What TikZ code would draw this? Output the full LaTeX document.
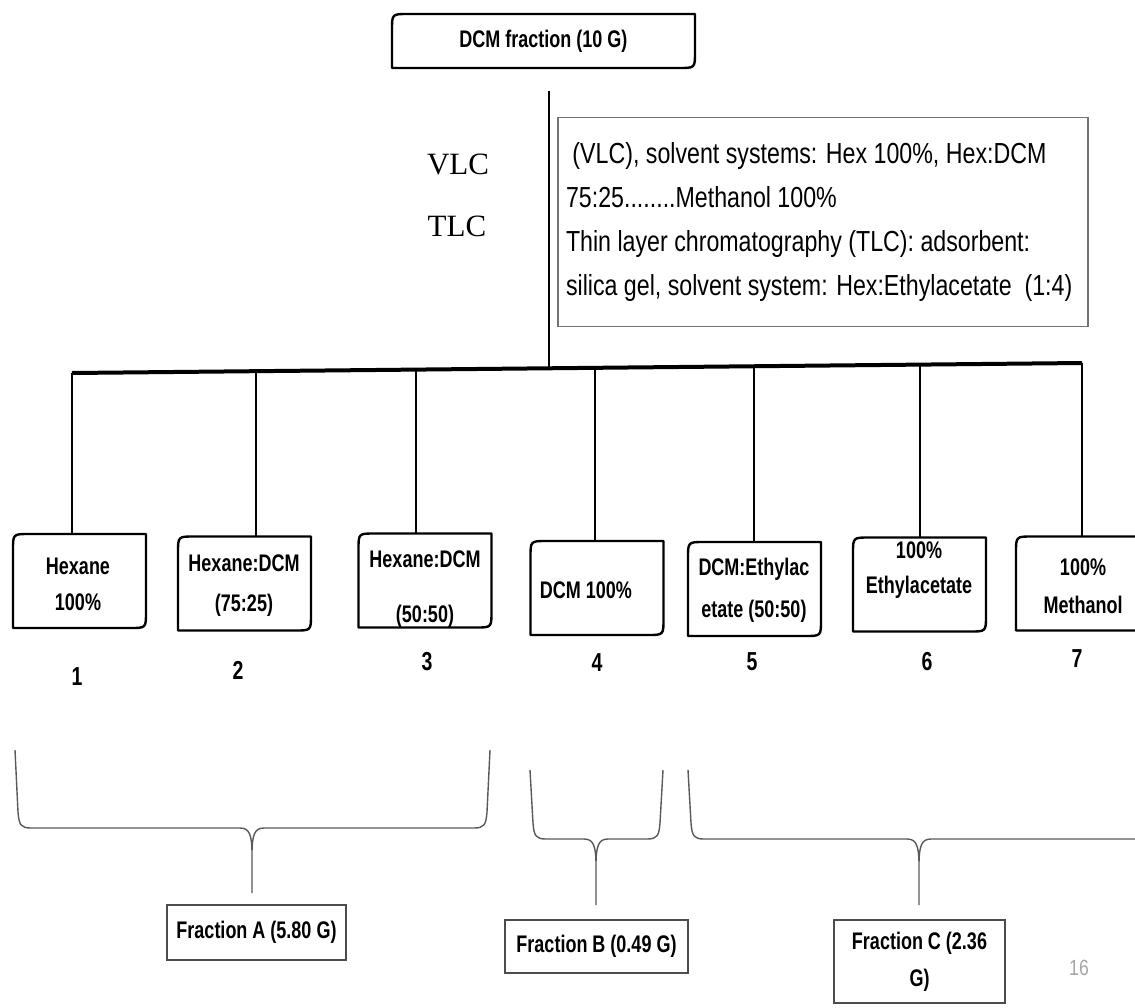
\documentclass[tikz,border=0pt]{standalone}
\usepackage{fontspec}
\setmainfont{Liberation Serif}
\newfontfamily\boxfont[FakeStretch=0.75]{Liberation Sans}
\newfontfamily\notefont[FakeStretch=0.80]{Liberation Sans}
\usepackage{tikz}
\usetikzlibrary{calc}

\begin{document}
\begin{tikzpicture}[x=1pt,y=-1pt,
		solv/.style={minimum width=133pt, minimum height=94pt, inner sep=0pt, outer sep=0pt},
		btxt/.style={font=\boxfont\bfseries\fontsize{24}{36}\selectfont, align=center, inner sep=0pt},
		num/.style={font=\boxfont\bfseries\fontsize{26}{26}\selectfont, inner sep=0pt},
		frac/.style={draw=black!70, line width=1.3pt, align=center, inner sep=0pt,
			font=\boxfont\bfseries\fontsize{24}{37}\selectfont},
		boxline/.style={line width=2.4pt, line join=round},
		brace/.style={black!65, line width=1.4pt, line join=round},
		drop/.style={line width=2.2pt},
		bar/.style={line width=4pt}]
	\useasboundingbox (0,0) rectangle (1135,1007);
	\clip (0,0) rectangle (1135,1007);
	
	\node[solv, minimum width=303pt, minimum height=54pt, font=\boxfont\bfseries\fontsize{24}{30}\selectfont] (top) at (543.5,41) {DCM fraction (10 G)};
	
	\node[font=\fontsize{31}{31}\selectfont, inner sep=0pt] (vlc) at (458,164) {VLC};
	\node[font=\fontsize{31}{31}\selectfont, inner sep=0pt] (tlc) at (457,226) {TLC};
	
	\node[draw=black!55, line width=1.3pt, minimum width=530pt, minimum height=209pt,
		text width=514pt, inner sep=8pt, align=flush left,
		font=\notefont\fontsize{29}{44}\selectfont] (note) at (823,222)
		{\ (VLC), solvent systems: Hex 100\%, Hex:DCM\\
		75:25........Methanol 100\%\\
		Thin layer chromatography (TLC): adsorbent:\\
		silica gel, solvent system: Hex:Ethylacetate\ \ (1:4)};
	
	\node[solv] (b1) at (79.5,581) {};
	\node[solv] (b2) at (244.5,583.5) {};
	\node[solv] (b3) at (425,580.5) {};
	\node[solv] (b4) at (597,588) {};
	\node[solv] (b5) at (754.5,589) {};
	\node[solv] (b6) at (919.5,584.5) {};
	\node[solv] (b7) at (1082.5,583.5) {};
	
	\foreach \b in {top,b1,b2,b3,b4,b5,b6,b7}
		\draw[boxline] ($(\b.north west)+(0,16)$) .. controls (\b.north west) .. ($(\b.north west)+(16,0)$)
			-- (\b.north east) -- ($(\b.south east)+(0,-16)$) .. controls (\b.south east) .. ($(\b.south east)+(-16,0)$)
			-- (\b.south west) -- cycle;
	
	\node[btxt] (s1) at (78,584) {Hexane\\100\%};
	\node[btxt] (s2) at (244,586) {Hexane:DCM\\[4pt](75:25)};
	\node[btxt] (s3) at (425,589) {Hexane:DCM\\[19pt](50:50)};
	\node[btxt] (s4) at (586,590) {DCM 100\%};
	\node[btxt] (s5) at (754,590) {DCM:Ethylac\\[6pt]etate (50:50)};
	\node[btxt] (s6) at (919,570) {100\%\\[-1pt]Ethylacetate};
	\node[btxt] (s7) at (1083,586) {100\%\\[2pt]Methanol};
	
	\node[num] (n1) at (77,677) {1};
	\node[num] (n2) at (238,670) {2};
	\node[num] (n3) at (427,662) {3};
	\node[num] (n4) at (597,663) {4};
	\node[num] (n5) at (752,662) {5};
	\node[num] (n6) at (927,662) {6};
	\node[num] (n7) at (1077,659) {7};
	
	\coordinate (vtop) at (549,91);
	\coordinate (d1) at (72,373);
	\coordinate (d2) at (256,371.2);
	\coordinate (d3) at (416,369.6);
	\coordinate (d4) at (595,367.8);
	\coordinate (d5) at (754,366.2);
	\coordinate (d6) at (920,364.6);
	\coordinate (d7) at (1082,363);
	
	\draw[line width=2.6pt] (vtop) -- (vtop |- d4);
	\draw[bar] (d1) -- (d7);
	\foreach \i in {1,...,7}
		\draw[drop] (d\i) -- (d\i |- b\i.north);
	
	\foreach \l/\r/\t/\top/\mid/\bot in {15/490/252/750/828/893, 530/663/596/770/839/905, 688/1160/919/770/839/905}
		\draw[brace] (\l,\top) -- (\l+3,\mid-16) .. controls (\l+4,\mid-3) and (\l+6,\mid) .. (\l+16,\mid)
			-- (\t-12,\mid) .. controls (\t-3,\mid) and (\t,\mid+6) .. (\t,\mid+26) -- (\t,\bot)
			(\t,\mid+26) .. controls (\t,\mid+6) and (\t+3,\mid) .. (\t+12,\mid)
			-- (\r-16,\mid) .. controls (\r-6,\mid) and (\r-4,\mid-3) .. (\r-3,\mid-16) -- (\r,\top);
	
	\node[frac, minimum width=179pt, minimum height=55pt] (fa) at (256.5,932.5) {Fraction A (5.80 G)};
	\node[frac, minimum width=183pt, minimum height=53pt] (fb) at (596.5,946.5) {Fraction B (0.49 G)};
	\node[frac, minimum width=171pt, minimum height=83pt] (fc) at (919.5,961.5) {Fraction C (2.36\\G)};
	
	\node[font=\notefont\fontsize{22}{22}\selectfont, text=black!35, inner sep=0pt] (pg) at (1079,968) {16};
\end{tikzpicture}
\end{document}
